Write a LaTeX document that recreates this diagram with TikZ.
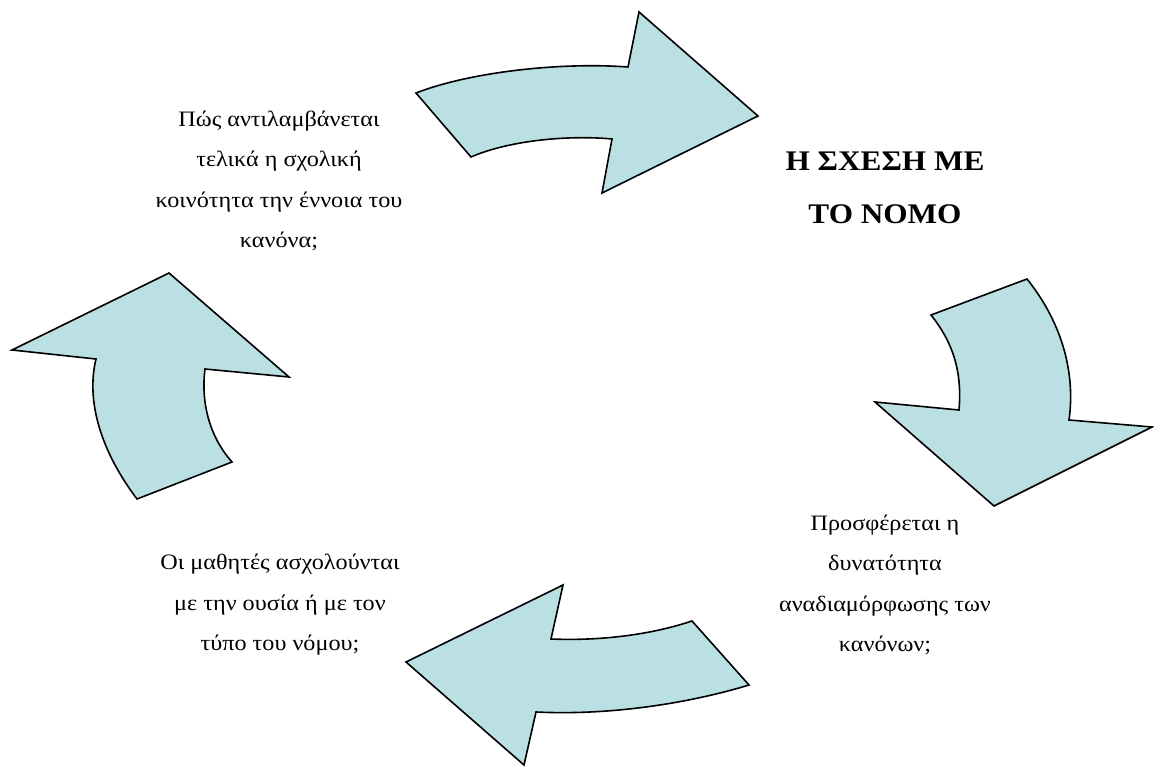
\documentclass[tikz,border=0pt]{standalone}
\usepackage{fontspec}
\setmainfont{Liberation Serif}[FakeStretch=1.1]
\begin{document}
\begin{tikzpicture}[x=1pt,y=-1pt,
  cyclearrow/.style={fill=arrowfill,draw=black,line width=1.6pt,line join=miter},
  caption/.style={align=center,font=\fontsize{22}{40.5}\selectfont,inner sep=0pt},
  heading/.style={align=center,font=\fontsize{28.4}{53.5}\selectfont\bfseries,inner sep=0pt}]
\definecolor{arrowfill}{RGB}{187,224,227}
\useasboundingbox (0,0) rectangle (1154,767);

% curved arrow at the top, pointing right
\draw[cyclearrow] (416,93) .. controls (470,72) and (560,62) .. (628,67)
  -- (639,12) -- (758,116) -- (602,193) -- (612,139)
  .. controls (570,135) and (510,140) .. (471,157) -- cycle;

% curved arrow on the right, pointing down
\draw[cyclearrow] (931,315) -- (1027,279)
  .. controls (1060,320) and (1076,370) .. (1069,420)
  -- (1152,427) -- (994,506) -- (875,402) -- (959,410)
  .. controls (962,375) and (955,345) .. (931,315) -- cycle;

% curved arrow at the bottom, pointing left
\draw[cyclearrow] (406,662) -- (563,585) -- (551,639)
  .. controls (600,641) and (650,635) .. (692,621)
  -- (749,685) .. controls (700,700) and (620,716) .. (536,712)
  -- (524,765) -- cycle;

% curved arrow on the left, pointing up
\draw[cyclearrow] (169,273) -- (289,377) -- (205,369)
  .. controls (201,400) and (208,435) .. (232,462)
  -- (137,499) .. controls (100,450) and (86,400) .. (96,359)
  -- (12,350) -- cycle;

\node[heading] (title) at (885,188) {Η ΣΧΕΣΗ ΜΕ\\ΤΟ ΝΟΜΟ};
\node[caption] (q1) at (279,181) {Πώς αντιλαμβάνεται\\τελικά η σχολική\\κοινότητα την έννοια του\\κανόνα;};
\node[caption] (q2) at (885,585) {Προσφέρεται η\\δυνατότητα\\αναδιαμόρφωσης των\\κανόνων;};
\node[caption] (q3) at (280,605) {Οι μαθητές ασχολούνται\\με την ουσία ή με τον\\τύπο του νόμου;};
\end{tikzpicture}
\end{document}
